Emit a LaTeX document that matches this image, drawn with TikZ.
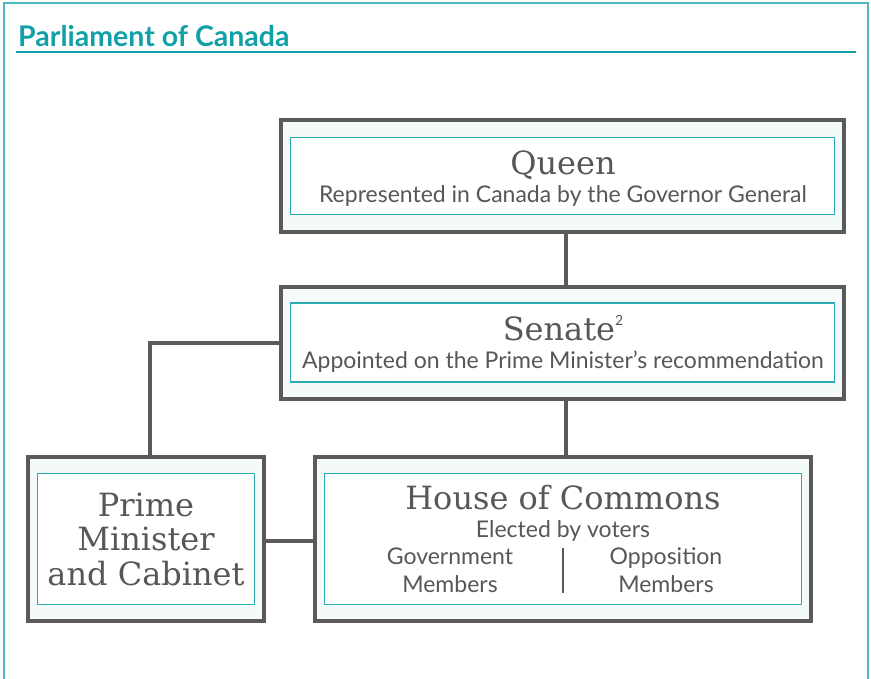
\documentclass[tikz,border=0pt]{standalone}
\usepackage{fontspec}
\setmainfont{Lato}
\newfontfamily\headfont{DejaVu Serif}
\definecolor{titleteal}{HTML}{12A0A8}
\definecolor{frameteal}{HTML}{4FB8C0}
\definecolor{innerteal}{HTML}{2AAAB2}
\definecolor{boxgray}{HTML}{5A5A5A}
\definecolor{txtgray}{HTML}{575757}
\definecolor{boxfill}{HTML}{F4FAFA}
\tikzset{
  outerbox/.style={draw=boxgray, line width=4pt, fill=boxfill, rectangle, inner sep=0pt},
  innerbox/.style={draw=innerteal, line width=1.3pt, fill=white, rectangle, inner sep=0pt},
  conn/.style={draw=boxgray, line width=4pt},
  head/.style={text=txtgray, anchor=base, inner sep=0pt, font=\headfont\fontsize{32}{36}\selectfont},
  sub/.style={text=txtgray, anchor=base, inner sep=0pt, font=\fontsize{23}{28}\selectfont},
}
\begin{document}
\begin{tikzpicture}[x=1pt,y=-1pt]
\useasboundingbox (0,0) rectangle (871,679);
% frame
\draw[frameteal, line width=2pt] (4,679) -- (4,3) -- (868,3) -- (868,679);
\node[anchor=base west, inner sep=0pt, text=titleteal, font=\bfseries\fontsize{28.5}{32}\selectfont] (title) at (18,47) {Parliament of Canada};
\coordinate (ruleL) at (16,52);
\coordinate (ruleR) at (856,52);
\draw[titleteal, line width=1.8pt] (ruleL) -- (ruleR);

% boxes
\node[outerbox, minimum width=563pt, minimum height=112pt] (queen) at (562.5,176) {};
\node[innerbox, minimum width=544pt, minimum height=77pt] (queenin) at (562.5,176) {};
\node[outerbox, minimum width=563pt, minimum height=112pt] (senate) at (562.5,343) {};
\node[innerbox, minimum width=544pt, minimum height=79pt] (senatein) at (562.5,342.5) {};
\node[outerbox, minimum width=236pt, minimum height=164pt] (pm) at (146,539) {};
\node[innerbox, minimum width=217pt, minimum height=131pt] (pmin) at (146,539) {};
\node[outerbox, minimum width=496pt, minimum height=164pt] (house) at (563,539) {};
\node[innerbox, minimum width=477pt, minimum height=131pt] (housein) at (563,539) {};

% connectors
\coordinate (vx) at (565.5,0);
\coordinate (lx) at (150,0);
\coordinate (hy) at (0,541);
\draw[conn] (queen.south -| vx) -- (senate.north -| vx);
\draw[conn] (senate.south -| vx) -- (house.north -| vx);
\draw[conn] (senate.west) -| (pm.north -| lx);
\draw[conn] (pm.east |- hy) -- (house.west |- hy);

% texts
\node[head] (qh) at (563,175) {Queen};
\node[sub] (qs) at (563,203) {Represented in Canada by the Governor General};
\node[head] (sh) at (563,341) {Senate\raisebox{0.95ex}{\normalfont\fontsize{14}{14}\selectfont 2}};
\node[sub] (ss) at (563,369) {Appointed on the Prime Minister’s recommendation};
\node[head] (hh) at (563,509) {House of Commons};
\node[sub] (hs) at (563,537) {Elected by voters};
\node[sub] (gov1) at (450,564) {Government};
\node[sub] (gov2) at (450,592) {Members};
\node[sub] (opp1) at (666,564) {Opposition};
\node[sub] (opp2) at (666,592) {Members};
\coordinate (divT) at (563,548);
\coordinate (divB) at (563,593);
\draw[boxgray, line width=2.2pt] (divT) -- (divB);
\node[head] (pm1) at (146,516) {Prime};
\node[head] (pm2) at (146,550.5) {Minister};
\node[head] (pm3) at (146,585) {and Cabinet};
\end{tikzpicture}
\end{document}
